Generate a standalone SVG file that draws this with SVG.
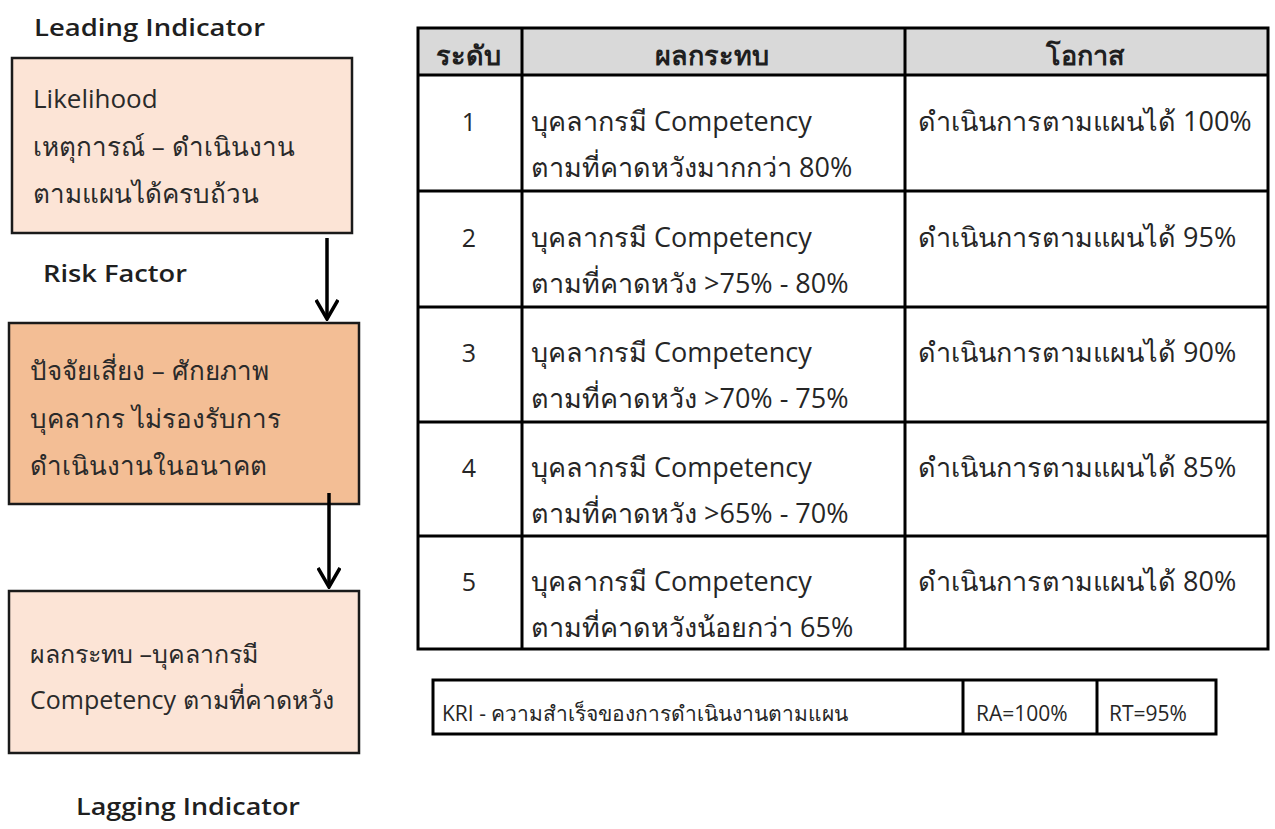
<svg xmlns="http://www.w3.org/2000/svg" width="1275" height="829" viewBox="0 0 1275 829">
  <style>
    text { font-family: "Open Sans", "Noto Sans", sans-serif; fill: #1f1f1f; }
    .lbl { font-size: 24px; font-weight: 600; }
    .box { stroke: #1a1a1a; stroke-width: 2.5; }
    .bt { font-size: 26px; fill: #2a2a2a; }
    .bt-s { font-size: 25px; fill: #2a2a2a; }
    .grid { stroke: #000; stroke-width: 3; fill: none; }
    .th { font-size: 27px; font-weight: 700; text-anchor: middle; }
    .td { font-size: 27px; fill: #262626; }
    .num { font-size: 25px; text-anchor: middle; fill: #262626; }
    .kri { font-size: 21px; fill: #262626; }
    .conn { stroke: #000; stroke-width: 3.5; fill: none; }
  </style>
  <defs>
    <marker id="vhead" viewBox="0 0 22 24" refX="20" refY="12" markerWidth="22" markerHeight="24" markerUnits="userSpaceOnUse" orient="auto">
      <path d="M1,1 L20,12 L1,23" fill="none" stroke="#000" stroke-width="3.5"/>
    </marker>
  </defs>
  <rect width="1275" height="829" fill="#fff"/>

  <!-- side labels -->
  <text class="lbl" x="34" y="36" textLength="231" lengthAdjust="spacingAndGlyphs">Leading Indicator</text>
  <text class="lbl" x="43" y="282" textLength="144" lengthAdjust="spacingAndGlyphs">Risk Factor</text>
  <text class="lbl" x="76" y="815" textLength="224" lengthAdjust="spacingAndGlyphs">Lagging Indicator</text>

  <!-- cause / effect chain -->
  <g id="node-likelihood">
    <rect class="box" x="12" y="58" width="340" height="175" fill="#FCE4D6"/>
    <text class="bt" x="33" y="108">Likelihood</text>
    <text class="bt" x="33" y="156">เหตุการณ์ – ดำเนินงาน</text>
    <text class="bt" x="33" y="203">ตามแผนได้ครบถ้วน</text>
  </g>
  <g id="node-risk">
    <rect class="box" x="9" y="323" width="350" height="181" fill="#F3BE95"/>
    <text class="bt" x="30" y="380">ปัจจัยเสี่ยง – ศักยภาพ</text>
    <text class="bt" x="30" y="428">บุคลากร ไม่รองรับการ</text>
    <text class="bt" x="30" y="475">ดำเนินงานในอนาคต</text>
  </g>
  <g id="node-impact">
    <rect class="box" x="9" y="591" width="350" height="162" fill="#FCE4D6"/>
    <text class="bt-s" x="30" y="663">ผลกระทบ –บุคลากรมี</text>
    <text class="bt-s" x="30" y="709">Competency ตามที่คาดหวัง</text>
  </g>

  <g id="connectors">
    <line class="conn" x1="327" y1="238" x2="327" y2="319" marker-end="url(#vhead)"/>
    <line class="conn" x1="329" y1="493" x2="329" y2="587" marker-end="url(#vhead)"/>
  </g>

  <!-- level table -->
  <g id="table-levels">
    <rect x="418" y="28" width="850" height="47" fill="#D9D9D9"/>
    <rect class="grid" x="418" y="28" width="850" height="621"/>
    <line class="grid" x1="418" y1="75" x2="1268" y2="75"/>
    <line class="grid" x1="418" y1="191" x2="1268" y2="191"/>
    <line class="grid" x1="418" y1="307" x2="1268" y2="307"/>
    <line class="grid" x1="418" y1="422" x2="1268" y2="422"/>
    <line class="grid" x1="418" y1="536" x2="1268" y2="536"/>
    <line class="grid" x1="522" y1="28" x2="522" y2="649"/>
    <line class="grid" x1="905" y1="28" x2="905" y2="649"/>

    <text class="th" x="468" y="65">ระดับ</text>
    <text class="th" x="712" y="65">ผลกระทบ</text>
    <text class="th" x="1085" y="65">โอกาส</text>

    <text class="num" x="469" y="131">1</text>
    <text class="td" x="531" y="131">บุคลากรมี Competency</text>
    <text class="td" x="531" y="177">ตามที่คาดหวังมากกว่า 80%</text>
    <text class="td" x="918" y="131">ดำเนินการตามแผนได้ 100%</text>

    <text class="num" x="469" y="247">2</text>
    <text class="td" x="531" y="247">บุคลากรมี Competency</text>
    <text class="td" x="531" y="293">ตามที่คาดหวัง &gt;75% - 80%</text>
    <text class="td" x="918" y="247">ดำเนินการตามแผนได้ 95%</text>

    <text class="num" x="469" y="362">3</text>
    <text class="td" x="531" y="362">บุคลากรมี Competency</text>
    <text class="td" x="531" y="408">ตามที่คาดหวัง &gt;70% - 75%</text>
    <text class="td" x="918" y="362">ดำเนินการตามแผนได้ 90%</text>

    <text class="num" x="469" y="477">4</text>
    <text class="td" x="531" y="477">บุคลากรมี Competency</text>
    <text class="td" x="531" y="523">ตามที่คาดหวัง &gt;65% - 70%</text>
    <text class="td" x="918" y="477">ดำเนินการตามแผนได้ 85%</text>

    <text class="num" x="469" y="591">5</text>
    <text class="td" x="531" y="591">บุคลากรมี Competency</text>
    <text class="td" x="531" y="637">ตามที่คาดหวังน้อยกว่า 65%</text>
    <text class="td" x="918" y="591">ดำเนินการตามแผนได้ 80%</text>
  </g>

  <!-- KRI strip -->
  <g id="table-kri">
    <rect class="grid" x="433" y="680" width="783" height="54"/>
    <line class="grid" x1="963" y1="680" x2="963" y2="734"/>
    <line class="grid" x1="1097" y1="680" x2="1097" y2="734"/>
    <text class="kri" x="442" y="721">KRI - ความสำเร็จของการดำเนินงานตามแผน</text>
    <text class="kri" x="976" y="721">RA=100%</text>
    <text class="kri" x="1109" y="721">RT=95%</text>
  </g>
</svg>
